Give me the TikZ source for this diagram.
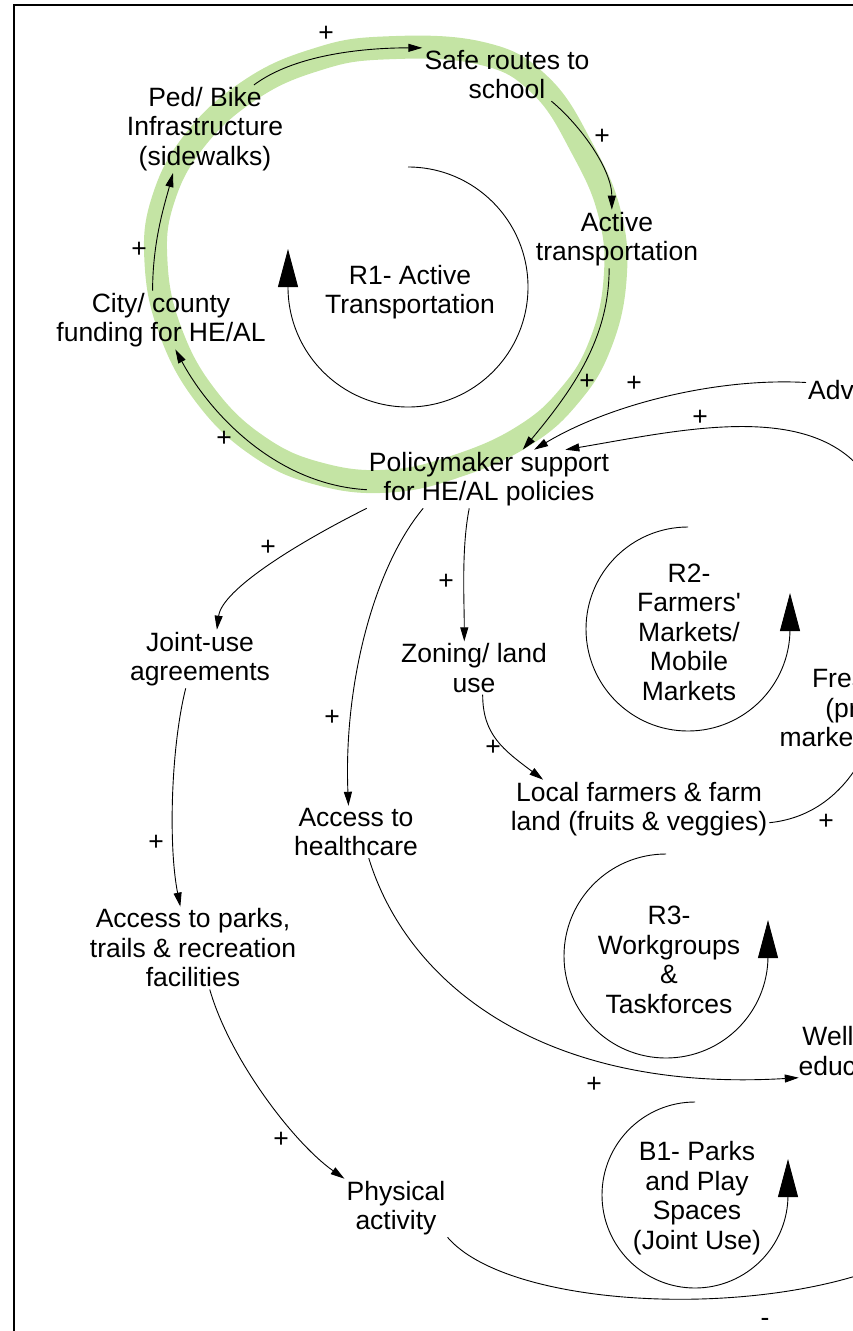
\documentclass[tikz,border=0pt]{standalone}
\usepackage{fontspec}
\setmainfont{Liberation Sans}[Ligatures=TeXOff]
\usepackage{tikz}
\usetikzlibrary{arrows.meta,positioning,calc}
\definecolor{ink}  {HTML}{000000}
\definecolor{leaf} {HTML}{C4E4A4}
\tikzset{
  every node/.style={font=\fontsize{26.5}{29.5}\selectfont},
  % --- nodes
  var/.style    = {align=center, inner sep=2pt, text=ink, yshift=-3pt},
  sgn/.style    = {inner sep=0pt, text=ink},
  % --- edges
  lnk/.style    = {-{Triangle[length=14pt,width=8pt]}, line width=0.9pt, draw=ink},
  loopar/.style = {-{Triangle[length=38pt,width=20pt]}, line width=0.9pt, draw=ink},
  hl/.style     = {draw=leaf, line width=23pt},
  frame/.style  = {draw=ink, line width=2.5pt},
}

\begin{document}
\begin{tikzpicture}[x=1pt,y=-1pt]
  \useasboundingbox (0,0) rectangle (853,1331);
  \clip (0,0) rectangle (853,1331);
  \draw[frame] (14,1400) -- (14,5) -- (900,5);

  % highlighted loop R1
  \draw[hl] plot[smooth cycle, tension=0.7] coordinates {
    (383,48) (480,53) (540,85) (583,150) (610,215) (615,280) (600,345)
    (570,395) (525,435) (460,465) (390,481) (320,474) (258,446) (205,395)
    (170,330) (156,262) (163,200) (195,140) (250,90) (315,60)};

  % --- variables
  \node[var] (safe)   at (507,71.5) {Safe routes to\\school};
  \node[var] (ped)    at (205,126)  {Ped/ Bike\\Infrastructure\\(sidewalks)};
  \node[var] (act)    at (617,236)  {Active\\transportation};
  \node[var] (city)   at (161,317)  {City/ county\\funding for HE/AL};
  \node[var] (pol)    at (489,476)  {Policymaker support\\for HE/AL policies};
  \node[var,anchor=west] (adv) at (806,390) {Advocacy};
  \node[var] (fresh)  at (882,705)  {Fresh foods\\(produce)\\markets \& stands};
  \node[var] (joint)  at (200,656)  {Joint-use\\agreements};
  \node[var] (zon)    at (474,665)  {Zoning/ land\\use};
  \node[var] (farm)   at (639,806)  {Local farmers \& farm\\land (fruits \& veggies)};
  \node[var] (health) at (356,829)  {Access to\\healthcare};
  \node[var] (parks)  at (193,945)  {Access to parks,\\trails \& recreation\\facilities};
  \node[var] (well)   at (856,1048) {Wellness\\education};
  \node[var] (phys)   at (396,1205) {Physical\\activity};
  \coordinate (offr) at (900,1260);

  % --- loop names
  \node[var] (r1) at (410,289)  {R1- Active\\Transportation};
  \node[var] (r2) at (689,629)  {R2-\\Farmers'\\Markets/\\Mobile\\Markets};
  \node[var] (r3) at (669,957)  {R3-\\Workgroups\\\&\\Taskforces};
  \node[var] (b1) at (697,1195) {B1- Parks\\and Play\\Spaces\\(Joint Use)};

  \draw[loopar] (408,167)  arc[start angle=-90, end angle=180, radius=120] -- ++(0,-38);
  \draw[loopar] (688,527)  arc[start angle=-90, end angle=-360, radius=102] -- ++(0,-36);
  \draw[loopar] (666,854)  arc[start angle=-90, end angle=-360, radius=102] -- ++(0,-36);
  \draw[loopar] (695,1102) arc[start angle=-90, end angle=-360, radius=93] -- ++(0,-36);

  % --- links
  \draw[lnk] (ped.42)   .. controls +(40,-30) and +(-60,0) .. (safe.north west);
  \draw[lnk] (safe.-31) .. controls +(30,25) and +(0,-40) .. (act.100);
  \draw[lnk] (act.-105) .. controls +(0,70) and +(50,-60) .. (pol.41);
  \draw[lnk] (pol.185)  .. controls +(-90,-5) and +(35,65) .. (city.-64);
  \draw[lnk] (city.106) .. controls +(0,-50) and +(-8,30) .. (ped.-126);
  \draw[lnk] (adv.170)  .. controls +(-90,-5) and +(75,-45) .. (pol.33);
  \draw[lnk] (fresh.north) .. controls +(60,-300) and +(160,-27) .. (pol.21);
  \draw[lnk] (farm.-6)  .. controls +(50,-5) and +(-20,35) .. (fresh.-110);
  \draw[lnk] (pol.south west) .. controls +(-70,35) and +(5,-40) .. (joint.60);
  \draw[lnk] (pol.-156) .. controls +(-50,60) and +(-5,-120) .. (health.106);
  \draw[lnk] (pol.-124) .. controls +(-8,40) and +(0,-40) .. (zon.110);
  \draw[lnk] (zon.-72)  .. controls +(0,40) and +(-40,-30) .. (farm.163);
  \draw[lnk] (joint.-116) .. controls +(-15,60) and +(-12,-60) .. (parks.107);
  \draw[lnk] (parks.-68) .. controls +(20,70) and +(-50,-35) .. (phys.north west);
  \draw[lnk] (health.-64) .. controls +(40,130) and +(-250,15) .. (well.-155);
  \draw[lnk] (phys.south east) .. controls +(60,70) and +(-150,60) .. (offr);

  % --- polarities
  \node[sgn] (s1)  at (326,34)   {+};
  \node[sgn] (s2)  at (602,137)  {+};
  \node[sgn] (s3)  at (587,382)  {+};
  \node[sgn] (s4)  at (634,384)  {+};
  \node[sgn] (s5)  at (700,418)  {+};
  \node[sgn] (s6)  at (224,439)  {+};
  \node[sgn] (s7)  at (139,250)  {+};
  \node[sgn] (s8)  at (268,548)  {+};
  \node[sgn] (s9)  at (446,582)  {+};
  \node[sgn] (s10) at (332,718)  {+};
  \node[sgn] (s11) at (493,748)  {+};
  \node[sgn] (s12) at (826,822)  {+};
  \node[sgn] (s13) at (156,843)  {+};
  \node[sgn] (s14) at (594,1085) {+};
  \node[sgn] (s15) at (281,1140) {+};
  \node[sgn] (s16) at (765,1322) {-};
\end{tikzpicture}
\end{document}
